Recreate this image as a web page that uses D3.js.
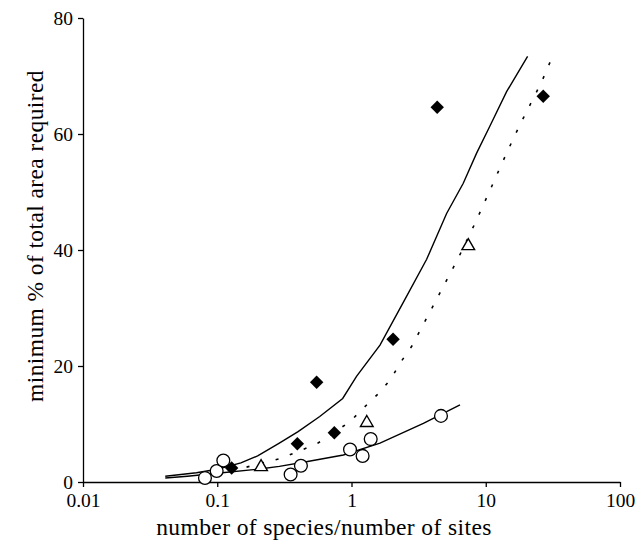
<!DOCTYPE html>
<html><head><meta charset="utf-8">
<script src="https://cdn.jsdelivr.net/npm/d3@7"></script>
<style>body{margin:0;background:#fff}</style>
</head><body>
<svg id="c" width="644" height="550"></svg>
<script>
const xTicks = [0.01, 0.1, 1, 10, 100];
const xTickLabels = ["0.01", "0.1", "1", "10", "100"];
const yTicks = [0, 20, 40, 60, 80];
const yTickLabels = ["0", "20", "40", "60", "80"];

const diamondX = [0.128, 0.395, 0.55, 0.745, 2.04, 4.35, 26.8];
const diamondY = [2.4, 6.6, 17.2, 8.5, 24.6, 64.6, 66.5];
const triangleX = [0.212, 1.30, 7.41];
const triangleY = [2.6, 10.2, 40.7];
const circleX = [0.081, 0.099, 0.111, 0.352, 0.42, 0.975, 1.21, 1.39, 4.64];
const circleY = [0.7, 1.9, 3.7, 1.3, 2.8, 5.6, 4.5, 7.4, 11.4];

const upperX = [0.041, 0.07, 0.1, 0.15, 0.2, 0.29, 0.40, 0.58, 0.86, 1.09, 1.63, 2.5, 3.63, 5.11, 6.8, 8.55, 10.7, 14.3, 20.5];
const upperY = [1.0, 1.6, 2.2, 3.3, 4.5, 6.7, 8.7, 11.3, 14.4, 18.2, 23.6, 31.5, 38.4, 46.3, 51.5, 56.7, 61.3, 67.3, 73.4];
const dottedX = [0.128, 0.161, 0.30, 0.55, 0.975, 1.22, 1.58, 1.96, 2.30, 2.81, 4.0, 6.24, 8.2, 9.48, 10.9, 12.5, 14.3, 16.5, 19.2, 26.1, 30.8];
const dottedY = [2.3, 2.5, 4.1, 6.55, 10.4, 12.7, 15.2, 17.7, 20.5, 23.4, 30.1, 38.6, 44.3, 47.5, 50.6, 53.7, 56.7, 59.8, 62.9, 69, 72.9];
const lowerX = [0.041, 0.06, 0.1, 0.2, 0.29, 0.46, 0.87, 1.63, 3.43, 6.43];
const lowerY = [0.7, 1.0, 1.5, 2.2, 2.7, 3.5, 4.66, 6.7, 10.1, 13.3];

const xLabel = "number of species/number of sites";
const yLabel = "minimum % of total area required";

const svg = d3.select("#c");
const x = d3.scaleLog().domain([0.01, 100]).range([83, 620]);
const y = d3.scaleLinear().domain([0, 80]).range([482, 18]);
const font = "'Liberation Serif','Times New Roman',serif";

const xAxis = svg.append("g").attr("transform", "translate(0,482)")
  .call(d3.axisBottom(x).tickValues(xTicks).tickSize(5).tickSizeOuter(0).tickPadding(6)
    .tickFormat((d, i) => xTickLabels[i]));
const yAxis = svg.append("g").attr("transform", "translate(83,0)")
  .call(d3.axisLeft(y).tickValues(yTicks).tickSize(5).tickSizeOuter(0).tickPadding(5)
    .tickFormat((d, i) => yTickLabels[i]));
[xAxis, yAxis].forEach(g => {
  g.selectAll("path,line").attr("stroke", "#000").attr("stroke-width", 1.3);
  g.selectAll("text").attr("font-family", font).attr("font-size", 19.5).attr("fill", "#000");
});

const line = d3.line().x(d => x(d[0])).y(d => y(d[1]));
const zip = (a, b) => a.map((v, i) => [v, b[i]]);

svg.append("path").datum(zip(upperX, upperY)).attr("d", line)
  .attr("fill", "none").attr("stroke", "#000").attr("stroke-width", 1.4);
svg.append("path").datum(zip(lowerX, lowerY)).attr("d", line)
  .attr("fill", "none").attr("stroke", "#000").attr("stroke-width", 1.4);
svg.append("path").datum(zip(dottedX, dottedY)).attr("d", line)
  .attr("fill", "none").attr("stroke", "#000").attr("stroke-width", 1.6)
  .attr("stroke-dasharray", "3,12");

const diamond = d3.symbol().type(d3.symbolDiamond2).size(115)();
const tri = d3.symbol().type(d3.symbolTriangle2).size(115)();

svg.append("g").selectAll("path").data(zip(circleX, circleY)).join("circle")
  .attr("cx", d => x(d[0])).attr("cy", d => y(d[1])).attr("r", 6.4)
  .attr("fill", "#fff").attr("stroke", "#000").attr("stroke-width", 1.3);
svg.append("g").selectAll("path").data(zip(triangleX, triangleY)).join("path")
  .attr("d", tri).attr("transform", d => `translate(${x(d[0])},${y(d[1])})`)
  .attr("fill", "#fff").attr("stroke", "#000").attr("stroke-width", 1.4);
svg.append("g").selectAll("path").data(zip(diamondX, diamondY)).join("path")
  .attr("d", diamond).attr("transform", d => `translate(${x(d[0])},${y(d[1])})`)
  .attr("fill", "#000");

svg.append("text").attr("x", 324).attr("y", 535).attr("text-anchor", "middle")
  .attr("font-family", font).attr("font-size", 23.5).attr("letter-spacing", 0.4)
  .text(xLabel);
svg.append("text").attr("transform", "translate(43,236) rotate(-90)").attr("text-anchor", "middle")
  .attr("font-family", font).attr("font-size", 23.5).attr("letter-spacing", 0.4)
  .text(yLabel);
</script>
</body></html>
